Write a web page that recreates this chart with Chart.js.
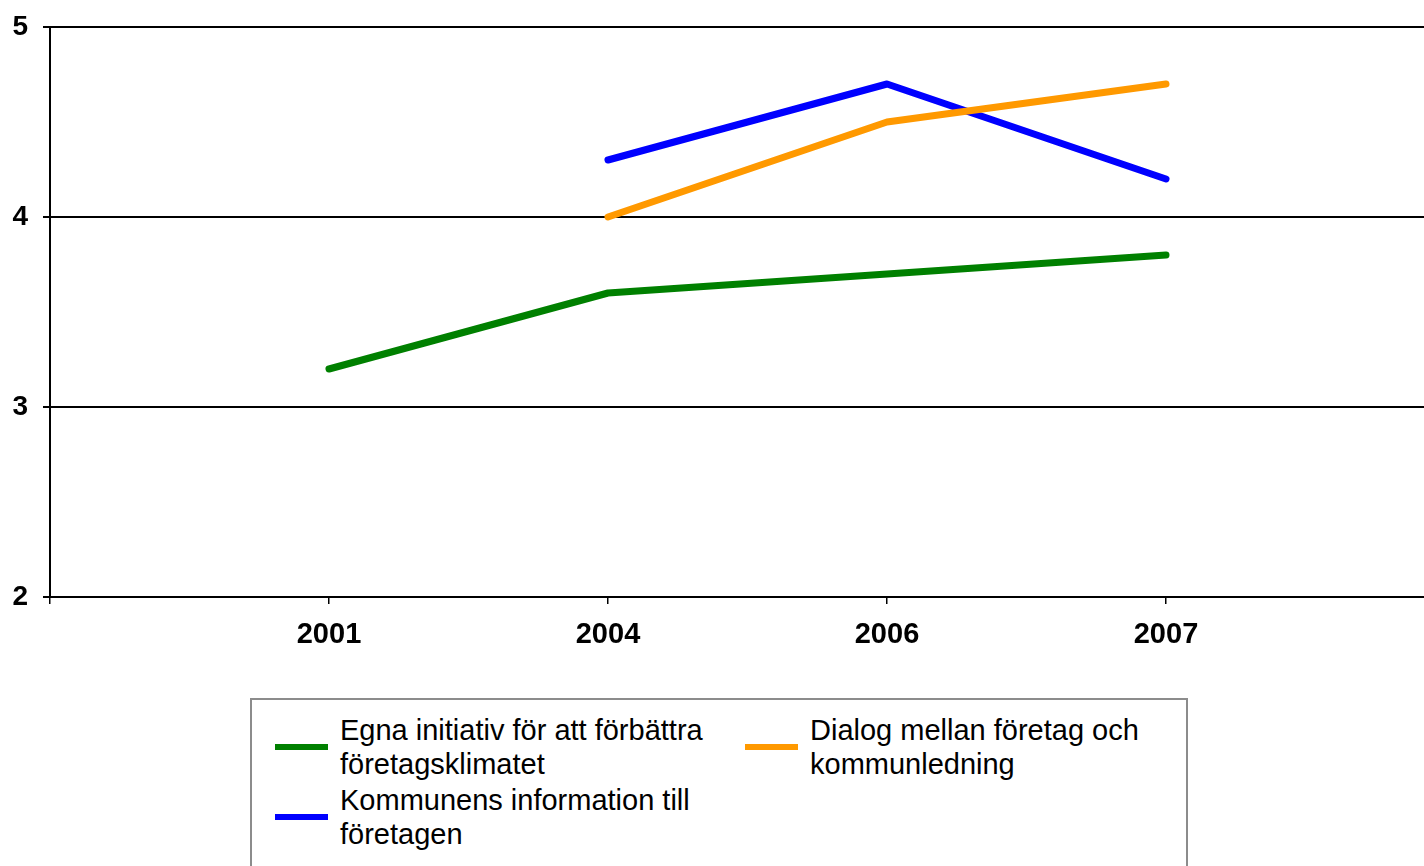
<!DOCTYPE html>
<html>
<head>
<meta charset="utf-8">
<script src="https://cdn.jsdelivr.net/npm/chart.js@4"></script>
<style>
    html, body { margin: 0; padding: 0; background: #fff; overflow: hidden; }
    body { width: 1424px; height: 866px; position: relative; }
    #chart { position: absolute; left: 0; top: 0; }
    #legend {
        position: absolute;
        left: 250px;
        top: 698px;
        height: 220px;
        width: 938px;
        border: 2px solid #8c8c8c;
        padding: 13px 0 0 23px;
        box-sizing: border-box;
        display: grid;
        grid-template-columns: 470px 440px;
        grid-auto-rows: 68px;
        row-gap: 2px;
        font-family: "Liberation Sans", Arial, sans-serif;
        font-size: 29px;
        line-height: 34px;
        color: #000;
    }
    .item { display: flex; align-items: center; height: 68px; }
    .swatch { width: 53px; height: 6px; margin-right: 12px; flex: none; }
</style>
</head>
<body>
<canvas id="chart" width="1470" height="660"></canvas>
<div id="legend"></div>
<script>
const categories = ["", "2001", "2004", "2006", "2007", ""];
const yTicks = [2, 3, 4, 5];

const egnaLabel = ["Egna initiativ för att förbättra", "företagsklimatet"];
const egnaValues = [null, 3.2, 3.6, 3.7, 3.8, null];

const dialogLabel = ["Dialog mellan företag och", "kommunledning"];
const dialogValues = [null, null, 4.0, 4.5, 4.7, null];

const infoLabel = ["Kommunens information till", "företagen"];
const infoValues = [null, null, 4.3, 4.7, 4.2, null];

const colors = ["#008000", "#ff9900", "#0000ff"];

const series = [
    { label: egnaLabel, data: egnaValues, color: colors[0] },
    { label: dialogLabel, data: dialogValues, color: colors[1] },
    { label: infoLabel, data: infoValues, color: colors[2] },
];

const font = "'Liberation Sans', Arial, sans-serif";

new Chart(document.getElementById("chart"), {
    type: "line",
    data: {
        labels: categories,
        datasets: series.map(s => ({
            label: s.label.join(" "),
            data: s.data,
            borderColor: s.color,
            backgroundColor: s.color,
            borderWidth: 7,
            borderCapStyle: "round",
            borderJoinStyle: "round",
            pointRadius: 0,
            tension: 0,
        })),
    },
    options: {
        responsive: false,
        animation: false,
        devicePixelRatio: 1,
        layout: { padding: { top: 27, right: 25, left: 0, bottom: 0 } },
        plugins: {
            legend: { display: false },
            tooltip: { enabled: false },
        },
        scales: {
            x: {
                offset: false,
                afterFit: scale => {
                    scale.height = 63;
                    scale.paddingLeft = 0;
                    scale.paddingRight = 0;
                },
                grid: {
                    drawOnChartArea: false,
                    drawTicks: true,
                    tickLength: 7,
                    color: "#000",
                    lineWidth: 1.5,
                },
                border: { display: true, color: "#000", width: 2 },
                ticks: {
                    autoSkip: false,
                    maxRotation: 0,
                    padding: 14,
                    color: "#000",
                    font: { family: font, size: 29, weight: "bold" },
                },
            },
            y: {
                min: 2,
                max: 5,
                afterFit: scale => {
                    scale.width = 50;
                    scale.paddingTop = 0;
                    scale.paddingBottom = 0;
                },
                afterBuildTicks: scale => {
                    scale.ticks = yTicks.map(v => ({ value: v }));
                },
                grid: {
                    color: "#000",
                    lineWidth: 2,
                    drawTicks: true,
                    tickLength: 7,
                },
                border: { display: true, color: "#000", width: 2 },
                ticks: {
                    padding: 15,
                    color: "#000",
                    font: { family: font, size: 28, weight: "bold" },
                },
            },
        },
    },
});

const legend = document.getElementById("legend");
series.forEach(s => {
    const item = document.createElement("div");
    item.className = "item";
    const swatch = document.createElement("span");
    swatch.className = "swatch";
    swatch.style.background = s.color;
    const text = document.createElement("span");
    text.innerHTML = s.label.join("<br>");
    item.appendChild(swatch);
    item.appendChild(text);
    legend.appendChild(item);
});
</script>
</body>
</html>
